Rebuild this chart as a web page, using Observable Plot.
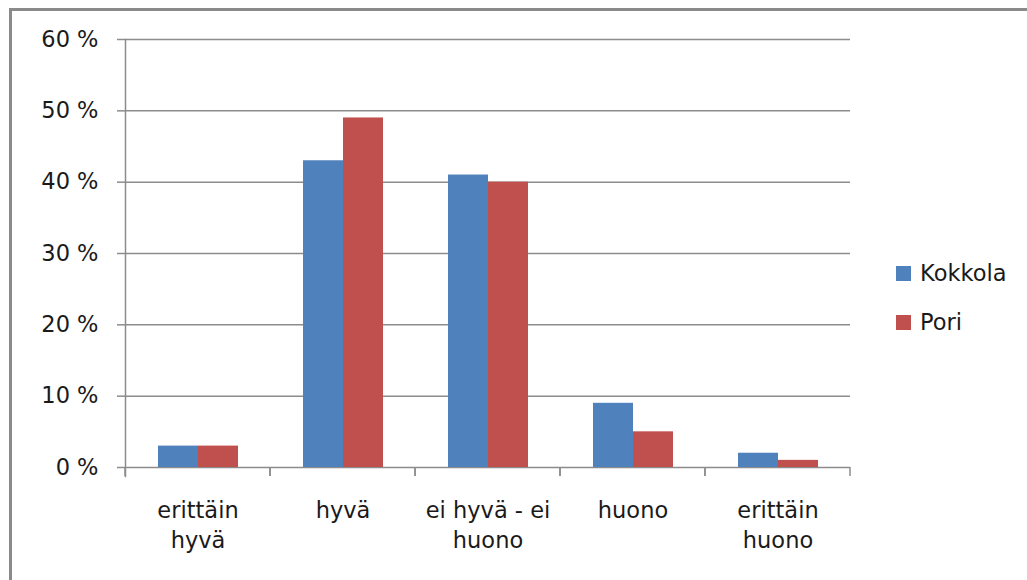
<!DOCTYPE html>
<html><head><meta charset="utf-8">
<script src="https://cdn.jsdelivr.net/npm/d3@7"></script>
<script src="https://cdn.jsdelivr.net/npm/@observablehq/plot@0.6"></script>
<style>
body{margin:0;background:#fff;font-family:"DejaVu Sans",sans-serif;}
#wrap{position:relative;width:1027px;height:580px;overflow:hidden;background:#fff;}
#border{position:absolute;left:9px;top:8px;width:1200px;height:800px;border-top:3px solid #8a8a8a;border-left:3px solid #8a8a8a;}
#chart{position:absolute;left:0;top:0;}
#legend{position:absolute;left:896px;top:257px;font-size:22.5px;color:#1a1a1a;}
#legend .item{display:flex;align-items:center;height:32px;margin-bottom:17px;}
#legend .sw{width:15px;height:15px;margin-right:9px;}
</style></head>
<body>
<div id="wrap"><div id="border"></div><div id="chart"></div><div id="legend"></div></div>
<script>
const categories = ["erittäin\nhyvä", "hyvä", "ei hyvä - ei\nhuono", "huono", "erittäin\nhuono"];
const series = ["Kokkola", "Pori"];
const kokkola = [0.03, 0.43, 0.41, 0.09, 0.02];
const pori = [0.03, 0.49, 0.40, 0.05, 0.01];
const yTicks = [0, 0.1, 0.2, 0.3, 0.4, 0.5, 0.6];
const colors = ["#4F81BD", "#C0504D"];

const data = categories.flatMap((c, i) => [
  {category: c, series: "Kokkola", value: kokkola[i]},
  {category: c, series: "Pori", value: pori[i]}
]);

const grey = "#8c8c8c";

function boundaryTicks(index, scales, values, dimensions) {
  const {marginLeft, width, marginRight} = dimensions;
  const y0 = scales.y(0);
  const g = d3.create("svg:g").attr("stroke", grey).attr("stroke-width", 1.5);
  for (const x of [marginLeft, width - marginRight]) {
    g.append("line").attr("x1", x).attr("x2", x).attr("y1", y0).attr("y2", y0 + 9);
  }
  return g.node();
}

const chart = Plot.plot({
  width: 1027, height: 580,
  marginLeft: 124, marginRight: 176, marginTop: 39, marginBottom: 113,
  style: {fontFamily: "DejaVu Sans", fontSize: "22.5px", color: "#1a1a1a", background: "transparent"},
  fx: {domain: categories, padding: 0, label: null},
  x: {domain: series, paddingInner: 0, paddingOuter: 0.773, axis: null},
  y: {domain: [0, 0.6], axis: null},
  color: {domain: series, range: colors},
  marks: [
    Plot.ruleY(yTicks, {stroke: grey, strokeWidth: 1.5}),
    Plot.barY(data, {fx: "category", x: "series", y: "value", fill: "series"}),
    Plot.frame({anchor: "left", facetAnchor: "left", insetBottom: -9, stroke: grey, strokeWidth: 1.5}),
    boundaryTicks,
    Plot.axisY(yTicks, {tickFormat: d => `${Math.round(d * 100)} %`, tickSize: 8, tickPadding: 19, stroke: grey, strokeWidth: 1.5, fill: "#1a1a1a", fontSize: 22.5, label: null}),
    Plot.axisFx({anchor: "bottom", tickSize: 0, tickPadding: 29, lineHeight: 1.34, fontSize: 22.5, fill: "#1a1a1a", label: null})
  ]
});
document.getElementById("chart").appendChild(chart);

const legend = document.getElementById("legend");
series.forEach((s, i) => {
  const item = document.createElement("div");
  item.className = "item";
  item.innerHTML = `<span class="sw" style="background:${colors[i]}"></span><span>${s}</span>`;
  legend.appendChild(item);
});
</script>
</body></html>
